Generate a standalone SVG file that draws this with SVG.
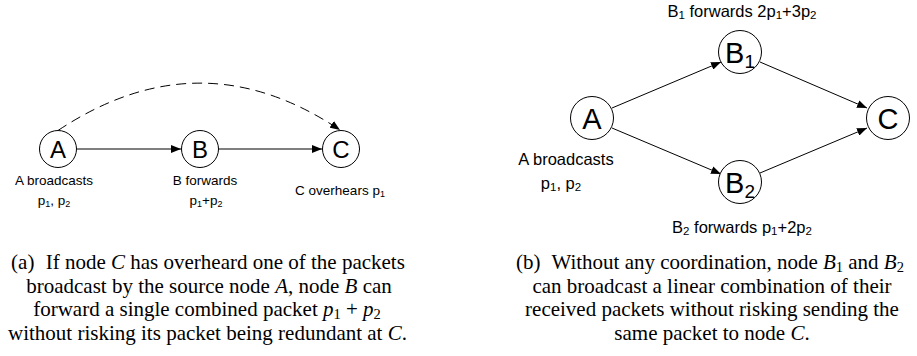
<svg xmlns="http://www.w3.org/2000/svg" width="917" height="356" viewBox="0 0 917 356">
<style>
.node{fill:#fff;stroke:#000;stroke-width:1}
.nl{font-family:"Liberation Sans",Arial,sans-serif;fill:#000;text-anchor:middle}
.lbl{font-family:"Liberation Sans",Arial,sans-serif;fill:#000;text-anchor:middle}
.cap{font-family:"Liberation Serif","Times New Roman",serif;fill:#000;font-size:21px;text-anchor:middle}
.edge{stroke:#000;stroke-width:1;fill:none;marker-end:url(#ah)}
.m{font-style:italic}
</style>
<defs>
<marker id="ah" viewBox="0 0 10 8" refX="10" refY="4" markerWidth="10" markerHeight="8" markerUnits="userSpaceOnUse" orient="auto">
<path d="M0,0 L10,4 L0,8 z" fill="#000"/>
</marker>
</defs>
<g id="connectors">
<path class="edge" d="M77,149 L181,149"/>
<path class="edge" d="M219,149 L322,149"/>
<path class="edge" d="M58,130.5 Q200,36 340,130" stroke-dasharray="10,6"/>
<path class="edge" d="M612,108 L721,62"/>
<path class="edge" d="M612,128 L721,174"/>
<path class="edge" d="M760,62 L867,108"/>
<path class="edge" d="M760,173 L867,128"/>
</g>
<g id="nodeA1"><circle class="node" cx="58" cy="149" r="18.5"/><text class="nl" x="58" y="157.5" font-size="24">A</text></g>
<g id="nodeB1"><circle class="node" cx="200" cy="149" r="18.5"/><text class="nl" x="200" y="157.5" font-size="24">B</text></g>
<g id="nodeC1"><circle class="node" cx="341" cy="149" r="18.5"/><text class="nl" x="341" y="157.5" font-size="24">C</text></g>
<g id="labels-a" class="lbl" font-size="13.5">
<text x="54" y="185">A broadcasts</text>
<text x="54" y="205">p<tspan font-size="9" dy="2">1</tspan><tspan dy="-2">, p</tspan><tspan font-size="9" dy="2">2</tspan></text>
<text x="205" y="185">B forwards</text>
<text x="206" y="205">p<tspan font-size="9" dy="2">1</tspan><tspan dy="-2">+p</tspan><tspan font-size="9" dy="2">2</tspan></text>
<text x="340" y="195">C overhears p<tspan font-size="9" dy="2">1</tspan></text>
</g>
<g id="nodeA2"><circle class="node" cx="592" cy="118" r="21.5"/><text class="nl" x="592" y="128.5" font-size="29">A</text></g>
<g id="nodeB12"><circle class="node" cx="740" cy="52" r="21.5"/><text class="nl" x="740" y="62.5" font-size="29">B<tspan font-size="19" dy="5">1</tspan></text></g>
<g id="nodeB22"><circle class="node" cx="740" cy="182" r="21.5"/><text class="nl" x="740" y="192.5" font-size="29">B<tspan font-size="19" dy="5">2</tspan></text></g>
<g id="nodeC2"><circle class="node" cx="888" cy="118" r="21.5"/><text class="nl" x="888" y="128.5" font-size="29">C</text></g>
<g id="labels-b" class="lbl" font-size="16.5">
<text x="742" y="17">B<tspan font-size="11.5" dy="2">1</tspan><tspan dy="-2"> forwards 2p</tspan><tspan font-size="11.5" dy="2">1</tspan><tspan dy="-2">+3p</tspan><tspan font-size="11.5" dy="2">2</tspan></text>
<text x="566" y="165">A broadcasts</text>
<text x="561" y="189">p<tspan font-size="11.5" dy="2">1</tspan><tspan dy="-2">, p</tspan><tspan font-size="11.5" dy="2">2</tspan></text>
<text x="742" y="233">B<tspan font-size="11.5" dy="2">2</tspan><tspan dy="-2"> forwards p</tspan><tspan font-size="11.5" dy="2">1</tspan><tspan dy="-2">+2p</tspan><tspan font-size="11.5" dy="2">2</tspan></text>
</g>
<g id="caption-a" class="cap">
<text x="208" y="269">(a)<tspan dx="6"> If node </tspan><tspan class="m">C</tspan> has overheard one of the packets</text>
<text x="209" y="292.5">broadcast by the source node <tspan class="m">A</tspan>, node <tspan class="m">B</tspan> can</text>
<text x="207" y="316">forward a single combined packet <tspan class="m">p</tspan><tspan font-size="14.5" dy="2.5">1</tspan><tspan dy="-2.5"> + </tspan><tspan class="m">p</tspan><tspan font-size="14.5" dy="2.5">2</tspan></text>
<text x="207.5" y="339.5">without risking its packet being redundant at <tspan class="m">C</tspan>.</text>
</g>
<g id="caption-b" class="cap">
<text x="710" y="269">(b)<tspan dx="6"> Without any coordination, node </tspan><tspan class="m">B</tspan><tspan font-size="14.5" dy="2.5">1</tspan><tspan dy="-2.5"> and </tspan><tspan class="m">B</tspan><tspan font-size="14.5" dy="2.5">2</tspan></text>
<text x="712" y="292.5">can broadcast a linear combination of their</text>
<text x="712" y="316">received packets without risking sending the</text>
<text x="712" y="339.5">same packet to node <tspan class="m">C</tspan>.</text>
</g>
</svg>
